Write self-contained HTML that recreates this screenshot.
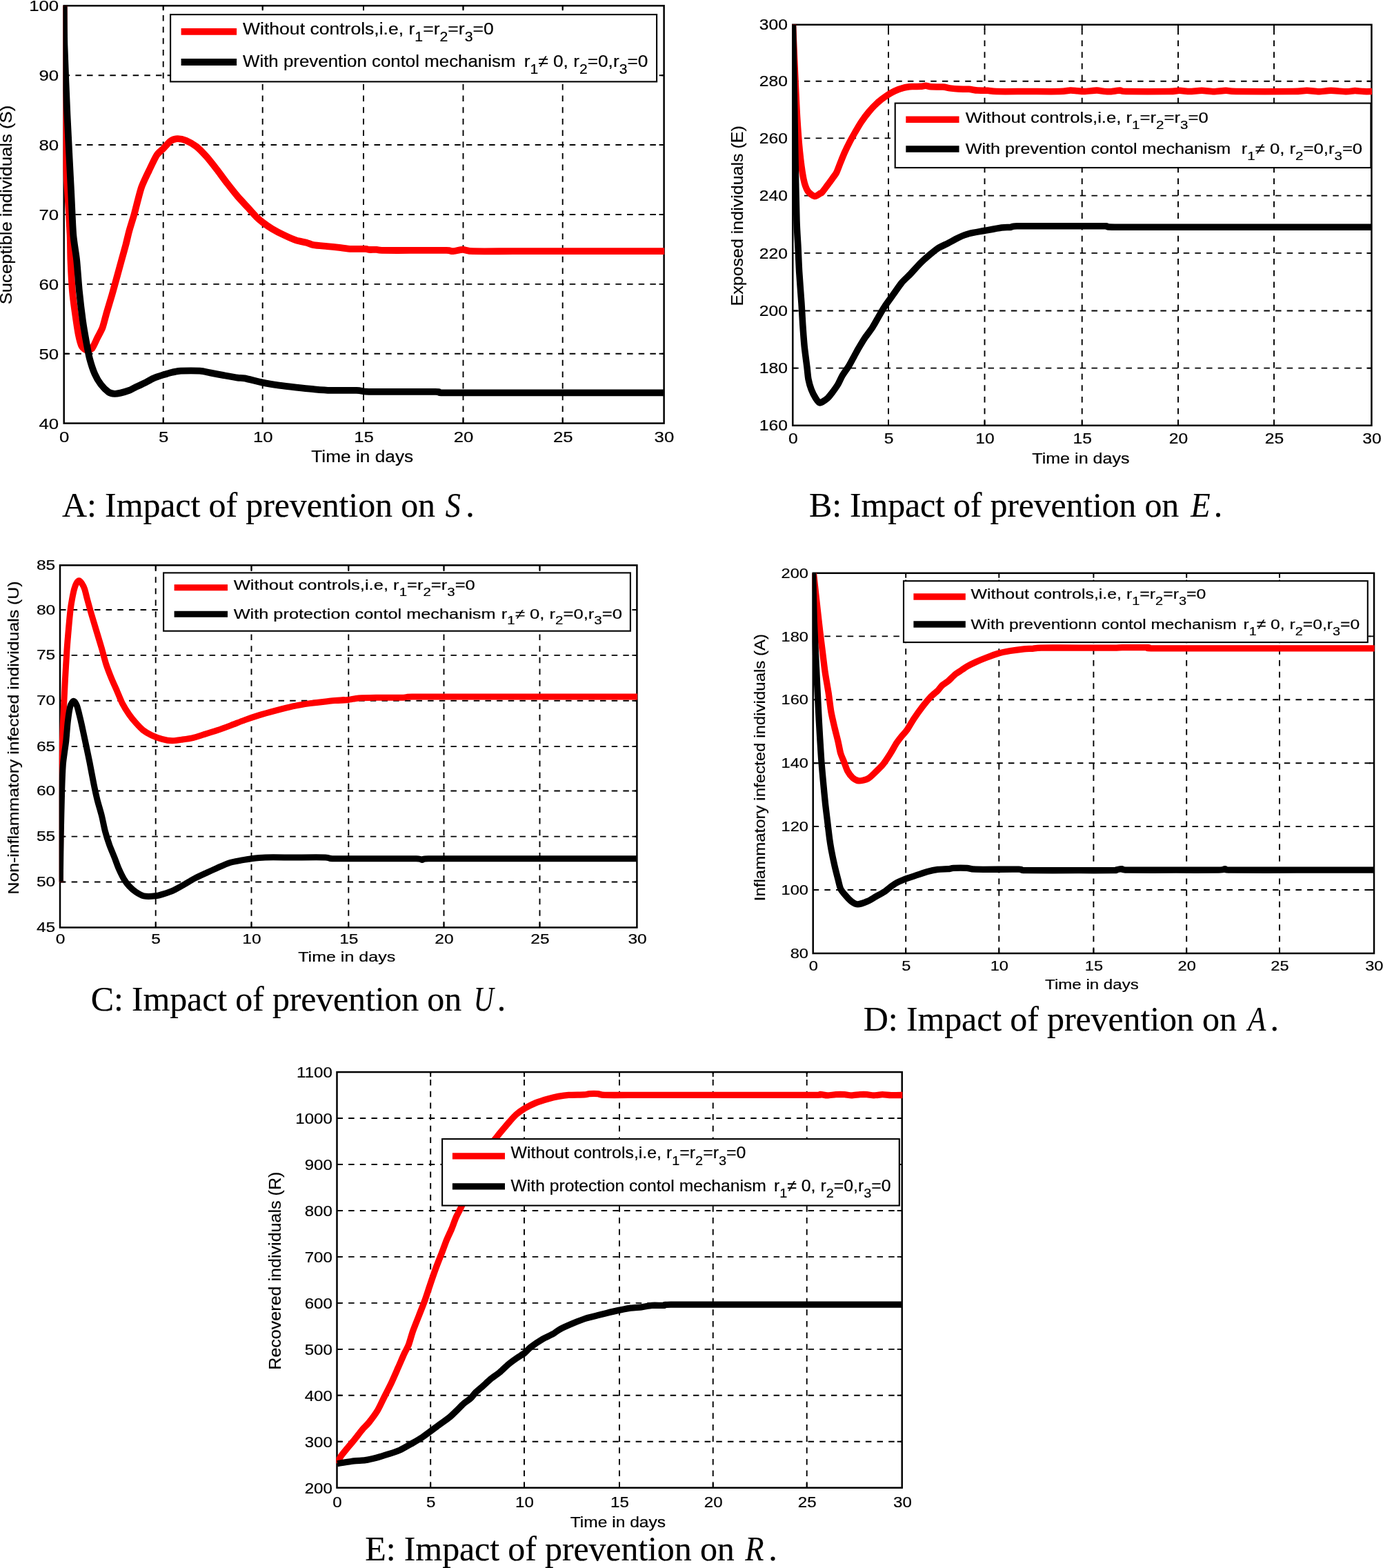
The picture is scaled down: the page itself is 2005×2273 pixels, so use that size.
<!DOCTYPE html>
<html lang="en">
<head>
<meta charset="utf-8">
<title>Impact of prevention on S, E, U, A and R</title>
<style>
html,body{margin:0;padding:0;background:#fff;}
body{width:2005px;height:2273px;overflow:hidden;}
svg{display:block;}
text{fill:#000;stroke:#000;stroke-width:0.2px;}
text.cap{stroke-width:0.15px;}
</style>
</head>
<body>
<svg width="2005" height="2273" viewBox="0 0 2005 2273" role="img" aria-label="Impact of prevention on S, E, U, A and R">
<rect width="2005" height="2273" fill="#fff"/>
<g id="chartA">
<path d="M236.7 613.6V8.3M380.7 613.6V8.3M527 613.6V8.3M671.5 613.6V8.3M815.7 613.6V8.3" stroke="#000" stroke-width="1.9" stroke-dasharray="8.5 8.16" fill="none"/>
<path d="M92.7 512.72H962.6M92.7 411.83H962.6M92.7 310.95H962.6M92.7 210.07H962.6M92.7 109.18H962.6" stroke="#000" stroke-width="1.9" stroke-dasharray="8.5 8.16" fill="none"/>
<path d="M236.7 613.6v-7.0M236.7 8.3v7.0M380.7 613.6v-7.0M380.7 8.3v7.0M527 613.6v-7.0M527 8.3v7.0M671.5 613.6v-7.0M671.5 8.3v7.0M815.7 613.6v-7.0M815.7 8.3v7.0M92.7 512.72h7.0M962.6 512.72h-7.0M92.7 411.83h7.0M962.6 411.83h-7.0M92.7 310.95h7.0M962.6 310.95h-7.0M92.7 210.07h7.0M962.6 210.07h-7.0M92.7 109.18h7.0M962.6 109.18h-7.0" stroke="#000" stroke-width="1.9" fill="none"/>
<rect x="92.7" y="8.3" width="869.9" height="605.3" fill="none" stroke="#000" stroke-width="2.5"/>
<clipPath id="clipA"><rect x="91.5" y="7.1" width="871.7" height="607.7"/></clipPath>
<g clip-path="url(#clipA)"><g fill="none" stroke-width="9.8" stroke-linejoin="round" stroke-linecap="butt">
<path d="M92.7 8.3C92.71 19.3 92.76 83 92.8 100C92.84 117 92.83 138 93 150C93.17 162 93.82 188 94.2 200C94.58 212 95.65 239.2 96.2 250C96.75 260.8 98.15 279.2 98.8 290C99.45 300.8 101.16 329.51 101.6 340C102.04 350.49 102.06 367.55 102.46 377.44C102.87 387.32 104.21 413.38 104.96 422.36C105.71 431.35 107.65 444.83 108.7 452.31C109.75 459.8 112.5 478.77 113.69 484.76C114.89 490.75 117.19 499.47 118.69 502.23C120.18 504.99 124.38 507.42 126.17 507.72C127.97 508.02 131.86 506.88 133.66 504.73C135.46 502.57 139.35 493.34 141.15 489.75C142.95 486.16 146.99 479.27 148.64 474.78C150.28 470.28 153.23 458 154.88 452.31C156.52 446.62 160.72 433.04 162.36 427.35C164.01 421.66 166.96 410.88 168.6 404.89C170.25 398.9 174.44 383.43 176.09 377.44C177.74 371.45 180.98 360.1 182.33 354.98C183.68 349.85 185.82 340.12 187.32 334.69C188.82 329.26 192.71 317.22 194.81 309.73C196.91 302.25 202.25 279.78 204.79 272.3C207.34 264.81 213.33 253.03 216.02 247.34C218.72 241.65 224.77 228.71 227.25 224.88C229.74 221.04 234.34 217.85 236.74 215.39C239.13 212.94 244.77 206.12 247.22 204.41C249.68 202.7 254.51 201.25 257.2 201.16C259.9 201.07 266.39 202.31 269.68 203.66C272.98 205.01 281.06 209.55 284.66 212.4C288.25 215.24 296.04 223.33 299.63 227.37C303.23 231.41 311.01 241.45 314.61 246.09C318.2 250.73 325.99 261.41 329.58 266.06C333.18 270.7 340.97 280.58 344.56 284.78C348.15 288.97 356.24 297.4 359.53 301C362.83 304.59 369.47 312.18 372.01 314.73C374.56 317.27 378.05 320.18 380.75 322.21C383.44 324.25 390.73 329.45 394.48 331.7C398.22 333.94 407.75 338.93 411.95 340.93C416.14 342.94 425.52 347.13 429.42 348.42C433.31 349.71 441.4 350.86 444.39 351.66C447.39 352.47 450.78 354.5 454.38 355.16C457.97 355.82 469.85 356.71 474.34 357.15C478.84 357.6 487.62 358.45 491.81 358.9C496.01 359.35 504.7 360.66 509.28 360.9C513.87 361.14 526.92 360.77 530 360.9C533.08 361.03 533.03 361.84 534.98 361.96C536.92 362.09 543.96 361.84 546.21 361.96C548.45 362.08 547.85 362.84 553.69 362.96C559.53 363.08 583.64 362.96 594.88 362.96C606.11 362.96 639.95 362.81 647.29 362.96C654.63 363.11 653.18 364.33 656.02 364.21C658.87 364.09 667.4 361.96 671 361.96C674.59 361.96 677.14 363.94 685.97 364.21C694.81 364.48 725.61 364.21 744.63 364.21C763.64 364.21 817.8 364.21 844.46 364.21C871.11 364.21 952.08 364.21 966.76 364.21" stroke="#f00"/>
<path d="M92.7 8.3C92.78 15.22 92.84 47.08 93.4 66C93.96 84.92 96.22 140.32 97.4 166C98.58 191.68 102.14 259.12 103.2 280C104.26 300.88 105.24 328.31 106.2 340C107.16 351.69 110.15 367.55 111.2 377.44C112.25 387.32 113.89 411.88 114.94 422.36C115.99 432.85 118.74 456.11 119.93 464.79C121.13 473.48 123.73 488.15 124.93 494.74C126.12 501.33 128.42 514.01 129.92 519.7C131.41 525.39 135.46 537.67 137.4 542.16C139.35 546.66 143.74 553.99 146.14 557.14C148.54 560.28 154.98 566.72 157.37 568.37C159.77 570.02 164.01 570.72 166.11 570.87C168.2 571.01 172.3 570.22 174.84 569.62C177.39 569.02 184.63 566.92 187.32 565.87C190.02 564.83 194.61 562.17 197.3 560.88C200 559.59 206.79 556.64 209.78 555.14C212.78 553.64 219.03 549.81 222.26 548.4C225.5 547 233.44 544.46 236.74 543.41C240.03 542.36 246.66 540.36 249.72 539.67C252.77 538.98 257.4 537.91 262.2 537.67C266.99 537.43 284.56 537.34 289.65 537.67C294.74 538 300.43 539.64 304.63 540.42C308.82 541.19 319.8 543.29 324.59 544.16C329.38 545.03 340.97 547.14 344.56 547.65C348.15 548.16 350.2 547.56 354.54 548.4C358.89 549.24 374.76 553.41 380.75 554.64C386.74 555.87 398.62 557.8 404.46 558.64C410.3 559.47 423.43 560.97 429.42 561.63C435.41 562.29 448.39 563.62 454.38 564.13C460.37 564.64 471.85 565.66 479.33 565.87C486.82 566.08 510.69 565.66 516.77 565.87C522.85 566.08 526.62 567.38 530 567.62C533.38 567.86 532.83 567.84 544.96 567.87C557.09 567.9 619.23 567.69 631.06 567.87C642.9 568.05 629.92 569.19 643.54 569.37C657.17 569.55 720.52 569.37 744.63 569.37C768.74 569.37 817.8 569.37 844.46 569.37C871.11 569.37 952.08 569.37 966.76 569.37" stroke="#000"/>
</g></g>
<text transform="translate(93.1 640.5) scale(1.14 1)" font-family='"Liberation Sans", sans-serif' font-size="22.6" text-anchor="middle">0</text>
<text transform="translate(237.2 640.5) scale(1.14 1)" font-family='"Liberation Sans", sans-serif' font-size="22.6" text-anchor="middle">5</text>
<text transform="translate(381.2 640.5) scale(1.14 1)" font-family='"Liberation Sans", sans-serif' font-size="22.6" text-anchor="middle">10</text>
<text transform="translate(527.5 640.5) scale(1.14 1)" font-family='"Liberation Sans", sans-serif' font-size="22.6" text-anchor="middle">15</text>
<text transform="translate(672 640.5) scale(1.14 1)" font-family='"Liberation Sans", sans-serif' font-size="22.6" text-anchor="middle">20</text>
<text transform="translate(816.2 640.5) scale(1.14 1)" font-family='"Liberation Sans", sans-serif' font-size="22.6" text-anchor="middle">25</text>
<text transform="translate(962.9 640.5) scale(1.14 1)" font-family='"Liberation Sans", sans-serif' font-size="22.6" text-anchor="middle">30</text>
<text transform="translate(85.2 621.62) scale(1.14 1)" font-family='"Liberation Sans", sans-serif' font-size="22.6" text-anchor="end">40</text>
<text transform="translate(85.2 520.74) scale(1.14 1)" font-family='"Liberation Sans", sans-serif' font-size="22.6" text-anchor="end">50</text>
<text transform="translate(85.2 419.86) scale(1.14 1)" font-family='"Liberation Sans", sans-serif' font-size="22.6" text-anchor="end">60</text>
<text transform="translate(85.2 318.97) scale(1.14 1)" font-family='"Liberation Sans", sans-serif' font-size="22.6" text-anchor="end">70</text>
<text transform="translate(85.2 218.09) scale(1.14 1)" font-family='"Liberation Sans", sans-serif' font-size="22.6" text-anchor="end">80</text>
<text transform="translate(85.2 117.21) scale(1.14 1)" font-family='"Liberation Sans", sans-serif' font-size="22.6" text-anchor="end">90</text>
<text transform="translate(85.2 16.32) scale(1.14 1)" font-family='"Liberation Sans", sans-serif' font-size="22.6" text-anchor="end">100</text>
<text transform="translate(525.2 669.9) scale(1.14 1)" font-family='"Liberation Sans", sans-serif' font-size="23.05" text-anchor="middle">Time in days</text>
<text transform="translate(17.4 297) rotate(-90) scale(1.09 1)" font-family='"Liberation Sans", sans-serif' font-size="23.6" text-anchor="middle">Suceptible individuals (S)</text>
<rect x="247.1" y="21.1" width="705" height="97.3" fill="#fff" stroke="#000" stroke-width="2.1"/>
<path d="M262.6 45.9H343.1" stroke="#f00" stroke-width="9.8"/>
<path d="M262.6 90H343.1" stroke="#000" stroke-width="9.8"/>
<text transform="translate(352 49.9) scale(1.14 1)" font-family='"Liberation Sans", sans-serif' font-size="24.3" xml:space="preserve" textLength="319.12" lengthAdjust="spacingAndGlyphs"><tspan dy="0" font-size="24.3">Without controls,i.e, r</tspan><tspan dy="10.21" font-size="19.44">1</tspan><tspan dy="-10.21" font-size="24.3">=r</tspan><tspan dy="10.21" font-size="19.44">2</tspan><tspan dy="-10.21" font-size="24.3">=r</tspan><tspan dy="10.21" font-size="19.44">3</tspan><tspan dy="-10.21" font-size="24.3">=0</tspan></text>
<text transform="translate(352 96.5) scale(1.14 1)" font-family='"Liberation Sans", sans-serif' font-size="24.3" xml:space="preserve" textLength="346.93" lengthAdjust="spacingAndGlyphs"><tspan dy="0" font-size="24.3">With prevention contol mechanism</tspan></text>
<text transform="translate(759.7 96.5) scale(1.14 1)" font-family='"Liberation Sans", sans-serif' font-size="24.3" xml:space="preserve" textLength="157.63" lengthAdjust="spacingAndGlyphs"><tspan dy="0" font-size="24.3">r</tspan><tspan dy="10.21" font-size="19.44">1</tspan><tspan dy="-10.21" font-size="24.3">≠ 0, r</tspan><tspan dy="10.21" font-size="19.44">2</tspan><tspan dy="-10.21" font-size="24.3">=0,r</tspan><tspan dy="10.21" font-size="19.44">3</tspan><tspan dy="-10.21" font-size="24.3">=0</tspan></text>
<text x="90" y="748.5" font-family='"Liberation Serif", serif' font-size="50" textLength="541.1" lengthAdjust="spacing" class="cap">A: Impact of prevention on</text>
<text transform="translate(656.7 748.5) scale(0.88 1)" font-family='"Liberation Serif", serif' font-style="italic" font-size="50" text-anchor="middle" class="cap">S</text>
<text x="675.3" y="748.5" font-family='"Liberation Serif", serif' font-size="50" class="cap">.</text>
</g>
<g id="chartB">
<path d="M1288 616.8V35.8M1427.5 616.8V35.8M1568.7 616.8V35.8M1708 616.8V35.8M1847 616.8V35.8" stroke="#000" stroke-width="1.9" stroke-dasharray="8.5 8.16" fill="none"/>
<path d="M1149.3 533.6H1988.4M1149.3 450.5H1988.4M1149.3 366.9H1988.4M1149.3 283.6H1988.4M1149.3 200.4H1988.4M1149.3 117.7H1988.4" stroke="#000" stroke-width="1.9" stroke-dasharray="8.5 8.16" fill="none"/>
<path d="M1288 616.8v-7.0M1288 35.8v7.0M1427.5 616.8v-7.0M1427.5 35.8v7.0M1568.7 616.8v-7.0M1568.7 35.8v7.0M1708 616.8v-7.0M1708 35.8v7.0M1847 616.8v-7.0M1847 35.8v7.0M1149.3 533.6h7.0M1988.4 533.6h-7.0M1149.3 450.5h7.0M1988.4 450.5h-7.0M1149.3 366.9h7.0M1988.4 366.9h-7.0M1149.3 283.6h7.0M1988.4 283.6h-7.0M1149.3 200.4h7.0M1988.4 200.4h-7.0M1149.3 117.7h7.0M1988.4 117.7h-7.0" stroke="#000" stroke-width="1.9" fill="none"/>
<rect x="1149.3" y="35.8" width="839.1" height="581" fill="none" stroke="#000" stroke-width="2.5"/>
<clipPath id="clipB"><rect x="1148.1" y="34.6" width="840.9" height="583.4"/></clipPath>
<g clip-path="url(#clipB)"><g fill="none" stroke-width="9.5" stroke-linejoin="round" stroke-linecap="butt">
<path d="M1149.48 35.49C1149.84 43.82 1151.76 89.06 1152.48 104.88C1153.2 120.69 1154.64 153.49 1155.47 167.27C1156.31 181.05 1158.33 208.6 1159.47 219.68C1160.61 230.77 1163.55 252.73 1164.96 259.62C1166.37 266.51 1169.25 274.09 1171.2 277.09C1173.14 280.08 1179.02 284.19 1181.18 284.58C1183.34 284.97 1187.94 280.97 1189.17 280.33C1190.39 279.7 1190.46 280.3 1191.4 279.3C1192.34 278.3 1195.68 273.74 1197 272C1198.32 270.26 1201.13 266.54 1202.4 264.8C1203.67 263.06 1206.36 259.25 1207.6 257.5C1208.84 255.75 1211.39 252.84 1212.7 250.2C1214.01 247.56 1217.07 239.03 1218.5 235.5C1219.93 231.97 1223.02 224.33 1224.6 220.8C1226.18 217.27 1229.88 209.62 1231.7 206.1C1233.52 202.58 1237.77 195.02 1239.8 191.5C1241.83 187.98 1246.22 180.33 1248.6 176.8C1250.98 173.27 1256.78 165.45 1259.6 162.1C1262.42 158.75 1268.99 151.72 1272.1 148.9C1275.21 146.08 1282.48 140.65 1285.5 138.6C1288.52 136.55 1294.33 133.18 1297.24 131.83C1300.14 130.48 1306.72 128.09 1309.72 127.34C1312.71 126.59 1319.2 125.83 1322.2 125.59C1325.19 125.35 1332.28 125.49 1334.68 125.34C1337.07 125.19 1340.37 124.28 1342.16 124.34C1343.96 124.4 1346.66 125.63 1349.65 125.84C1352.65 126.05 1363.83 125.85 1367.12 126.09C1370.42 126.33 1374.41 127.48 1377.1 127.84C1379.8 128.2 1386.29 128.91 1389.58 129.08C1392.88 129.26 1401.26 129.09 1404.56 129.33C1407.85 129.57 1413.74 130.84 1417.04 131.08C1420.33 131.32 1428.72 131.15 1432.01 131.33C1435.31 131.51 1437.6 132.43 1444.49 132.58C1451.38 132.73 1478.34 132.58 1489.42 132.58C1500.5 132.58 1529.35 132.76 1536.84 132.58C1544.33 132.4 1548.82 131.17 1551.81 131.08C1554.81 130.99 1559.4 131.65 1561.8 131.83C1564.19 132.01 1568.4 132.67 1571.78 132.58C1575.16 132.49 1586.62 131.11 1590 131.08C1593.38 131.05 1597.54 132.12 1599.93 132.33C1602.31 132.54 1607.06 132.98 1609.91 132.83C1612.75 132.68 1620.94 131.11 1623.64 131.08C1626.33 131.05 1623.84 132.4 1632.37 132.58C1640.91 132.76 1685.48 132.73 1694.77 132.58C1704.05 132.43 1706.15 131.33 1709.74 131.33C1713.34 131.33 1720.82 132.58 1724.72 132.58C1728.61 132.58 1738 131.3 1742.19 131.33C1746.38 131.36 1755.47 132.83 1759.66 132.83C1763.85 132.83 1773.24 131.36 1777.13 131.33C1781.02 131.3 1780.42 132.43 1792.1 132.58C1803.79 132.73 1862.19 132.73 1874.47 132.58C1886.75 132.43 1889.94 131.3 1894.43 131.33C1898.93 131.36 1907.71 132.83 1911.91 132.83C1916.1 132.83 1924.58 131.33 1929.38 131.33C1934.17 131.33 1947.65 132.8 1951.84 132.83C1956.03 132.86 1961.32 131.61 1964.32 131.58C1967.31 131.55 1973.65 132.46 1976.8 132.58C1979.94 132.7 1988.88 132.58 1990.52 132.58" stroke="#f00"/>
<path d="M1149.48 35.49C1149.69 46.81 1150.81 106.53 1151.23 129.83C1151.65 153.13 1152.53 206.91 1152.98 229.67C1153.43 252.43 1154.5 304.19 1154.98 319.52C1155.45 334.85 1156.52 348.39 1156.97 357.44C1157.42 366.48 1158.12 384.99 1158.72 394.88C1159.32 404.76 1161.36 430.82 1161.96 439.8C1162.56 448.79 1163.2 462.26 1163.71 469.75C1164.22 477.24 1165.46 494.71 1166.21 502.2C1166.96 509.68 1169.26 526.46 1169.95 532.15C1170.64 537.84 1171.2 545.72 1171.95 549.62C1172.7 553.51 1174.93 561.3 1176.19 564.59C1177.45 567.89 1180.93 574.74 1182.43 577.07C1183.93 579.41 1186.57 584.06 1188.67 584.06C1190.77 584.06 1197.8 578.81 1199.9 577.07C1202 575.33 1204.34 571.98 1206.14 569.58C1207.94 567.19 1213.08 560.1 1214.88 557.1C1216.67 554.11 1219.17 547.92 1221.11 544.63C1223.06 541.33 1229 533.09 1231.1 529.65C1233.19 526.21 1236.94 518.92 1238.59 515.92C1240.23 512.93 1242.88 507.99 1244.83 504.69C1246.77 501.4 1252.41 492.06 1254.81 488.47C1257.2 484.88 1262.4 478.49 1264.79 474.74C1267.19 471 1272.68 460.87 1274.78 457.27C1276.87 453.68 1279.87 448.39 1282.26 444.79C1284.66 441.2 1291.75 431.51 1294.74 427.32C1297.74 423.13 1304.23 413.44 1307.22 409.85C1310.22 406.26 1316.41 400.82 1319.7 397.37C1323 393.93 1331.38 384.44 1334.68 381.15C1337.97 377.85 1344.16 372.46 1347.15 369.92C1350.15 367.37 1356.34 362.03 1359.63 359.93C1362.93 357.84 1371.01 354.3 1374.61 352.45C1378.2 350.59 1385.99 346.11 1389.58 344.46C1393.18 342.81 1400.07 339.92 1404.56 338.72C1409.05 337.52 1421.33 335.52 1427.02 334.48C1432.71 333.43 1447.49 330.58 1451.98 329.98C1456.47 329.38 1461.76 329.75 1464.46 329.48C1467.15 329.21 1465.46 327.95 1474.44 327.74C1483.43 327.53 1525.47 327.74 1539.33 327.74C1553.2 327.74 1582.24 327.74 1590 327.74C1597.76 327.73 1600.88 327.52 1604 327.7C1607.12 327.88 1598.48 329.02 1616 329.2C1633.52 329.38 1718.32 329.2 1750 329.2C1781.68 329.2 1851.2 329.2 1880 329.2C1908.8 329.2 1976.8 329.2 1990 329.2" stroke="#000"/>
</g></g>
<text transform="translate(1149.9 643.2) scale(1.14 1)" font-family='"Liberation Sans", sans-serif' font-size="21.6" text-anchor="middle">0</text>
<text transform="translate(1288.5 643.2) scale(1.14 1)" font-family='"Liberation Sans", sans-serif' font-size="21.6" text-anchor="middle">5</text>
<text transform="translate(1428 643.2) scale(1.14 1)" font-family='"Liberation Sans", sans-serif' font-size="21.6" text-anchor="middle">10</text>
<text transform="translate(1569.2 643.2) scale(1.14 1)" font-family='"Liberation Sans", sans-serif' font-size="21.6" text-anchor="middle">15</text>
<text transform="translate(1708.5 643.2) scale(1.14 1)" font-family='"Liberation Sans", sans-serif' font-size="21.6" text-anchor="middle">20</text>
<text transform="translate(1847.5 643.2) scale(1.14 1)" font-family='"Liberation Sans", sans-serif' font-size="21.6" text-anchor="middle">25</text>
<text transform="translate(1989 643.2) scale(1.14 1)" font-family='"Liberation Sans", sans-serif' font-size="21.6" text-anchor="middle">30</text>
<text transform="translate(1141.9 624.47) scale(1.14 1)" font-family='"Liberation Sans", sans-serif' font-size="21.6" text-anchor="end">160</text>
<text transform="translate(1141.9 541.27) scale(1.14 1)" font-family='"Liberation Sans", sans-serif' font-size="21.6" text-anchor="end">180</text>
<text transform="translate(1141.9 458.17) scale(1.14 1)" font-family='"Liberation Sans", sans-serif' font-size="21.6" text-anchor="end">200</text>
<text transform="translate(1141.9 374.57) scale(1.14 1)" font-family='"Liberation Sans", sans-serif' font-size="21.6" text-anchor="end">220</text>
<text transform="translate(1141.9 291.27) scale(1.14 1)" font-family='"Liberation Sans", sans-serif' font-size="21.6" text-anchor="end">240</text>
<text transform="translate(1141.9 208.07) scale(1.14 1)" font-family='"Liberation Sans", sans-serif' font-size="21.6" text-anchor="end">260</text>
<text transform="translate(1141.9 125.37) scale(1.14 1)" font-family='"Liberation Sans", sans-serif' font-size="21.6" text-anchor="end">280</text>
<text transform="translate(1141.9 43.47) scale(1.14 1)" font-family='"Liberation Sans", sans-serif' font-size="21.6" text-anchor="end">300</text>
<text transform="translate(1566.9 671.9) scale(1.14 1)" font-family='"Liberation Sans", sans-serif' font-size="22.03" text-anchor="middle">Time in days</text>
<text transform="translate(1076.6 312.8) rotate(-90) scale(1.06 1)" font-family='"Liberation Sans", sans-serif' font-size="23.6" text-anchor="middle">Exposed individuals (E)</text>
<rect x="1297.7" y="149.6" width="689.7" height="93.5" fill="#fff" stroke="#000" stroke-width="2.1"/>
<path d="M1313.3 173.3H1390.5" stroke="#f00" stroke-width="9.5"/>
<path d="M1313.3 216.1H1390.5" stroke="#000" stroke-width="9.5"/>
<text transform="translate(1399.8 177.8) scale(1.14 1)" font-family='"Liberation Sans", sans-serif' font-size="21.6" xml:space="preserve" textLength="308.81" lengthAdjust="spacingAndGlyphs"><tspan dy="0" font-size="21.6">Without controls,i.e, r</tspan><tspan dy="9.07" font-size="17.28">1</tspan><tspan dy="-9.07" font-size="21.6">=r</tspan><tspan dy="9.07" font-size="17.28">2</tspan><tspan dy="-9.07" font-size="21.6">=r</tspan><tspan dy="9.07" font-size="17.28">3</tspan><tspan dy="-9.07" font-size="21.6">=0</tspan></text>
<text transform="translate(1399.8 222.8) scale(1.14 1)" font-family='"Liberation Sans", sans-serif' font-size="21.6" xml:space="preserve" textLength="337.18" lengthAdjust="spacingAndGlyphs"><tspan dy="0" font-size="21.6">With prevention contol mechanism</tspan></text>
<text transform="translate(1799.8 222.8) scale(1.14 1)" font-family='"Liberation Sans", sans-serif' font-size="21.6" xml:space="preserve" textLength="153.83" lengthAdjust="spacingAndGlyphs"><tspan dy="0" font-size="21.6">r</tspan><tspan dy="9.07" font-size="17.28">1</tspan><tspan dy="-9.07" font-size="21.6">≠ 0, r</tspan><tspan dy="9.07" font-size="17.28">2</tspan><tspan dy="-9.07" font-size="21.6">=0,r</tspan><tspan dy="9.07" font-size="17.28">3</tspan><tspan dy="-9.07" font-size="21.6">=0</tspan></text>
<text x="1173" y="748.5" font-family='"Liberation Serif", serif' font-size="50" textLength="536.2" lengthAdjust="spacing" class="cap">B: Impact of prevention on</text>
<text transform="translate(1740.35 748.5) scale(0.93 1)" font-family='"Liberation Serif", serif' font-style="italic" font-size="50" text-anchor="middle" class="cap">E</text>
<text x="1759.7" y="748.5" font-family='"Liberation Serif", serif' font-size="50" class="cap">.</text>
</g>
<g id="chartC">
<path d="M225.7 1344.5V819.4M364.5 1344.5V819.4M505.3 1344.5V819.4M643.5 1344.5V819.4M782.5 1344.5V819.4" stroke="#000" stroke-width="1.9" stroke-dasharray="8.5 8.16" fill="none"/>
<path d="M87 1278.5H923.4M87 1212.6H923.4M87 1146.5H923.4M87 1082.1H923.4M87 1015.7H923.4M87 949.9H923.4M87 884H923.4" stroke="#000" stroke-width="1.9" stroke-dasharray="8.5 8.16" fill="none"/>
<path d="M225.7 1344.5v-7.0M225.7 819.4v7.0M364.5 1344.5v-7.0M364.5 819.4v7.0M505.3 1344.5v-7.0M505.3 819.4v7.0M643.5 1344.5v-7.0M643.5 819.4v7.0M782.5 1344.5v-7.0M782.5 819.4v7.0M87 1278.5h7.0M923.4 1278.5h-7.0M87 1212.6h7.0M923.4 1212.6h-7.0M87 1146.5h7.0M923.4 1146.5h-7.0M87 1082.1h7.0M923.4 1082.1h-7.0M87 1015.7h7.0M923.4 1015.7h-7.0M87 949.9h7.0M923.4 949.9h-7.0M87 884h7.0M923.4 884h-7.0" stroke="#000" stroke-width="1.9" fill="none"/>
<rect x="87" y="819.4" width="836.4" height="525.1" fill="none" stroke="#000" stroke-width="2.5"/>
<clipPath id="clipC"><rect x="85.8" y="818.2" width="838.2" height="527.5"/></clipPath>
<g clip-path="url(#clipC)"><g fill="none" stroke-width="9" stroke-linejoin="round" stroke-linecap="butt">
<path d="M87.3 1278.4C87.36 1268.99 87.56 1220.21 87.8 1200C88.04 1179.79 88.88 1128 89.3 1110C89.72 1092 90.69 1064.88 91.3 1050C91.91 1035.12 93.72 998.96 94.4 986C95.08 973.04 96.38 951.12 97 942C97.62 932.88 98.98 917.03 99.6 910C100.22 902.97 101.6 888.44 102.2 883.4C102.8 878.36 103.95 871.53 104.6 868C105.25 864.47 106.86 856.7 107.6 854C108.34 851.3 109.96 846.96 110.8 845.5C111.64 844.04 113.68 841.8 114.6 841.8C115.52 841.8 117.53 844.04 118.5 845.5C119.47 846.96 121.78 851.37 122.7 854C123.62 856.63 125 863.1 126.16 867.4C127.33 871.71 130.76 884.18 132.4 889.87C134.05 895.56 138.09 908.84 139.89 914.83C141.69 920.82 145.73 934.09 147.38 939.78C149.03 945.47 151.97 957.15 153.62 962.25C155.27 967.34 159.16 977.42 161.11 982.21C163.05 987 167.9 997.69 169.84 1002.18C171.79 1006.67 175.23 1015.61 177.33 1019.65C179.43 1023.69 184.92 1032.43 187.31 1035.87C189.71 1039.32 194.9 1045.66 197.3 1048.35C199.69 1051.05 204.58 1056.24 207.28 1058.34C209.98 1060.43 216.46 1064.27 219.76 1065.82C223.05 1067.38 231.14 1070.36 234.73 1071.31C238.33 1072.27 246.11 1073.72 249.71 1073.81C253.3 1073.9 261.09 1072.57 264.68 1072.06C268.28 1071.55 276.06 1070.41 279.66 1069.57C283.25 1068.73 290.44 1066.36 294.63 1065.07C298.83 1063.79 309.81 1060.45 314.6 1058.84C319.39 1057.22 329.78 1053.39 334.57 1051.6C339.36 1049.8 349.74 1045.6 354.53 1043.86C359.33 1042.12 369.11 1038.77 374.5 1037.12C379.89 1035.47 393.47 1031.72 399.46 1030.13C405.45 1028.55 418.43 1025.15 424.42 1023.89C430.41 1022.64 443.39 1020.52 449.38 1019.65C455.37 1018.78 468.34 1017.25 474.33 1016.66C480.32 1016.06 497.41 1014.81 499.29 1014.66C501.17 1014.51 489.32 1015.44 490 1015.41C490.68 1015.38 501.38 1014.83 504.98 1014.41C508.57 1013.99 515.16 1012.3 519.95 1011.91C524.74 1011.52 537.12 1011.25 544.91 1011.16C552.7 1011.07 578.55 1011.31 584.84 1011.16C591.13 1011.01 584.74 1010.07 597.32 1009.92C609.9 1009.77 663.61 1009.92 689.67 1009.92C715.72 1009.92 786.16 1009.92 814.46 1009.92C842.76 1009.92 912.2 1009.92 925.52 1009.92" stroke="#f00"/>
<path d="M87.3 1278.4C87.41 1270.37 87.91 1227.46 88.2 1211.5C88.49 1195.54 89.33 1157.74 89.7 1145.4C90.07 1133.06 90.83 1115.35 91.3 1108.7C91.77 1102.05 93.06 1094.16 93.6 1090C94.14 1085.84 95.24 1079.28 95.8 1074C96.36 1068.72 97.58 1052 98.3 1046C99.02 1040 100.8 1027.58 101.8 1024C102.8 1020.42 105.44 1016.32 106.6 1016.2C107.76 1016.08 110.49 1020.62 111.5 1023C112.51 1025.38 114.18 1032.76 115 1036C115.82 1039.24 117.08 1044.44 118.3 1050C119.52 1055.56 123.81 1075.71 125.2 1082.3C126.59 1088.89 128.59 1098.3 129.91 1104.91C131.22 1111.52 134.8 1130.77 136.15 1137.35C137.5 1143.94 139.79 1154.43 141.14 1159.82C142.49 1165.21 146.03 1176.89 147.38 1182.28C148.73 1187.67 151.02 1199.65 152.37 1204.74C153.72 1209.83 156.96 1220.07 158.61 1224.71C160.26 1229.35 164.45 1239.23 166.1 1243.43C167.75 1247.62 170.69 1255.91 172.34 1259.65C173.99 1263.39 178.03 1271.63 179.83 1274.63C181.62 1277.62 185.22 1282.36 187.31 1284.61C189.41 1286.86 194.75 1291.64 197.3 1293.34C199.84 1295.05 205.23 1298.18 208.53 1298.84C211.82 1299.49 221.31 1299.19 224.75 1298.84C228.19 1298.48 233.94 1296.86 237.23 1295.84C240.52 1294.82 248.61 1292 252.2 1290.35C255.8 1288.7 263.59 1284.15 267.18 1282.11C270.77 1280.08 278.26 1275.41 282.15 1273.38C286.05 1271.34 295.73 1266.94 299.63 1265.14C303.52 1263.34 310.71 1260.11 314.6 1258.4C318.49 1256.7 327.88 1252.26 332.07 1250.92C336.26 1249.57 345.65 1247.92 349.54 1247.17C353.44 1246.42 360.32 1245.18 364.52 1244.68C368.71 1244.17 377.3 1243.14 384.48 1242.93C391.67 1242.72 413.94 1242.93 424.42 1242.93C434.9 1242.93 464.95 1242.72 471.84 1242.93C478.73 1243.14 475.44 1244.47 481.82 1244.68C488.2 1244.89 518.03 1244.66 525 1244.68C531.97 1244.69 530.49 1244.76 539.92 1244.78C549.34 1244.79 594.88 1244.57 603.56 1244.78C612.25 1244.99 610.2 1246.52 612.3 1246.52C614.39 1246.52 608.75 1244.99 621.03 1244.78C633.31 1244.57 691.41 1244.78 714.63 1244.78C737.84 1244.78 789.15 1244.78 814.46 1244.78C839.77 1244.78 912.2 1244.78 925.52 1244.78" stroke="#000"/>
</g></g>
<text transform="translate(87.5 1368.1) scale(1.21 1)" font-family='"Liberation Sans", sans-serif' font-size="20.3" text-anchor="middle">0</text>
<text transform="translate(226.2 1368.1) scale(1.21 1)" font-family='"Liberation Sans", sans-serif' font-size="20.3" text-anchor="middle">5</text>
<text transform="translate(365 1368.1) scale(1.21 1)" font-family='"Liberation Sans", sans-serif' font-size="20.3" text-anchor="middle">10</text>
<text transform="translate(505.8 1368.1) scale(1.21 1)" font-family='"Liberation Sans", sans-serif' font-size="20.3" text-anchor="middle">15</text>
<text transform="translate(644 1368.1) scale(1.21 1)" font-family='"Liberation Sans", sans-serif' font-size="20.3" text-anchor="middle">20</text>
<text transform="translate(783 1368.1) scale(1.21 1)" font-family='"Liberation Sans", sans-serif' font-size="20.3" text-anchor="middle">25</text>
<text transform="translate(924.1 1368.1) scale(1.21 1)" font-family='"Liberation Sans", sans-serif' font-size="20.3" text-anchor="middle">30</text>
<text transform="translate(80.2 1351.01) scale(1.21 1)" font-family='"Liberation Sans", sans-serif' font-size="20.3" text-anchor="end">45</text>
<text transform="translate(80.2 1285.01) scale(1.21 1)" font-family='"Liberation Sans", sans-serif' font-size="20.3" text-anchor="end">50</text>
<text transform="translate(80.2 1219.11) scale(1.21 1)" font-family='"Liberation Sans", sans-serif' font-size="20.3" text-anchor="end">55</text>
<text transform="translate(80.2 1153.01) scale(1.21 1)" font-family='"Liberation Sans", sans-serif' font-size="20.3" text-anchor="end">60</text>
<text transform="translate(80.2 1088.61) scale(1.21 1)" font-family='"Liberation Sans", sans-serif' font-size="20.3" text-anchor="end">65</text>
<text transform="translate(80.2 1022.21) scale(1.21 1)" font-family='"Liberation Sans", sans-serif' font-size="20.3" text-anchor="end">70</text>
<text transform="translate(80.2 956.41) scale(1.21 1)" font-family='"Liberation Sans", sans-serif' font-size="20.3" text-anchor="end">75</text>
<text transform="translate(80.2 890.51) scale(1.21 1)" font-family='"Liberation Sans", sans-serif' font-size="20.3" text-anchor="end">80</text>
<text transform="translate(80.2 825.91) scale(1.21 1)" font-family='"Liberation Sans", sans-serif' font-size="20.3" text-anchor="end">85</text>
<text transform="translate(502.7 1394.1) scale(1.21 1)" font-family='"Liberation Sans", sans-serif' font-size="20.71" text-anchor="middle">Time in days</text>
<text transform="translate(27 1069.5) rotate(-90) scale(1.14 1)" font-family='"Liberation Sans", sans-serif' font-size="21.8" text-anchor="middle">Non-inflammatory infected individuals (U)</text>
<rect x="237.1" y="830.4" width="676.8" height="84.3" fill="#fff" stroke="#000" stroke-width="2.1"/>
<path d="M252.6 851.7H330" stroke="#f00" stroke-width="9"/>
<path d="M252.6 890.3H330" stroke="#000" stroke-width="9"/>
<text transform="translate(338.7 855) scale(1.21 1)" font-family='"Liberation Sans", sans-serif' font-size="20.3" xml:space="preserve" textLength="289.32" lengthAdjust="spacingAndGlyphs"><tspan dy="0" font-size="20.3">Without controls,i.e, r</tspan><tspan dy="8.53" font-size="16.24">1</tspan><tspan dy="-8.53" font-size="20.3">=r</tspan><tspan dy="8.53" font-size="16.24">2</tspan><tspan dy="-8.53" font-size="20.3">=r</tspan><tspan dy="8.53" font-size="16.24">3</tspan><tspan dy="-8.53" font-size="20.3">=0</tspan></text>
<text transform="translate(338.7 896.5) scale(1.21 1)" font-family='"Liberation Sans", sans-serif' font-size="20.3" xml:space="preserve" textLength="313.99" lengthAdjust="spacingAndGlyphs"><tspan dy="0" font-size="20.3">With protection contol mechanism</tspan></text>
<text transform="translate(726.8 896.5) scale(1.21 1)" font-family='"Liberation Sans", sans-serif' font-size="20.3" xml:space="preserve" textLength="144.78" lengthAdjust="spacingAndGlyphs"><tspan dy="0" font-size="20.3">r</tspan><tspan dy="8.53" font-size="16.24">1</tspan><tspan dy="-8.53" font-size="20.3">≠ 0, r</tspan><tspan dy="8.53" font-size="16.24">2</tspan><tspan dy="-8.53" font-size="20.3">=0,r</tspan><tspan dy="8.53" font-size="16.24">3</tspan><tspan dy="-8.53" font-size="20.3">=0</tspan></text>
<text x="131.8" y="1464.8" font-family='"Liberation Serif", serif' font-size="50" textLength="537.4" lengthAdjust="spacing" class="cap">C: Impact of prevention on</text>
<text transform="translate(701.25 1464.8) scale(0.8 1)" font-family='"Liberation Serif", serif' font-style="italic" font-size="50" text-anchor="middle" class="cap">U</text>
<text x="720.8" y="1464.8" font-family='"Liberation Serif", serif' font-size="50" class="cap">.</text>
</g>
<g id="chartD">
<path d="M1313.2 1382V830.8M1448.3 1382V830.8M1585.4 1382V830.8M1720.2 1382V830.8M1855 1382V830.8" stroke="#000" stroke-width="1.9" stroke-dasharray="8.5 8.16" fill="none"/>
<path d="M1178.7 1290H1992M1178.7 1198.1H1992M1178.7 1106.2H1992M1178.7 1014.2H1992M1178.7 922.4H1992" stroke="#000" stroke-width="1.9" stroke-dasharray="8.5 8.16" fill="none"/>
<path d="M1313.2 1382v-7.0M1313.2 830.8v7.0M1448.3 1382v-7.0M1448.3 830.8v7.0M1585.4 1382v-7.0M1585.4 830.8v7.0M1720.2 1382v-7.0M1720.2 830.8v7.0M1855 1382v-7.0M1855 830.8v7.0M1178.7 1290h7.0M1992 1290h-7.0M1178.7 1198.1h7.0M1992 1198.1h-7.0M1178.7 1106.2h7.0M1992 1106.2h-7.0M1178.7 1014.2h7.0M1992 1014.2h-7.0M1178.7 922.4h7.0M1992 922.4h-7.0" stroke="#000" stroke-width="1.9" fill="none"/>
<rect x="1178.7" y="830.8" width="813.3" height="551.2" fill="none" stroke="#000" stroke-width="2.5"/>
<clipPath id="clipD"><rect x="1177.5" y="829.6" width="815.1" height="553.6"/></clipPath>
<g clip-path="url(#clipD)"><g fill="none" stroke-width="9.3" stroke-linejoin="round" stroke-linecap="butt">
<path d="M1179.48 831.23C1179.99 835.87 1182.61 859.88 1183.72 869.92C1184.83 879.95 1187.66 905.86 1188.71 914.84C1189.76 923.83 1191.56 937.6 1192.45 944.79C1193.35 951.98 1195.15 967.55 1196.2 974.74C1197.25 981.93 1200.14 997.8 1201.19 1004.69C1202.24 1011.58 1203.89 1026.16 1204.93 1032.15C1205.98 1038.14 1208.73 1049.52 1209.93 1054.61C1211.12 1059.7 1213.87 1070.08 1214.92 1074.58C1215.97 1079.07 1217.61 1088.45 1218.66 1092.05C1219.71 1095.64 1222.45 1101.48 1223.65 1104.53C1224.85 1107.57 1227.15 1114.7 1228.64 1117.45C1230.14 1120.2 1234.12 1125.7 1236.13 1127.44C1238.14 1129.17 1242.67 1131.78 1245.37 1131.93C1248.06 1132.08 1255.66 1130.27 1258.59 1128.69C1261.53 1127.1 1267.22 1121.19 1269.83 1118.7C1272.43 1116.22 1277.76 1111.17 1280.31 1107.97C1282.85 1104.77 1288.7 1095.75 1291.04 1092.05C1293.38 1088.34 1297.83 1080.07 1299.78 1077.07C1301.72 1074.08 1305.47 1069.33 1307.26 1067.09C1309.06 1064.84 1312.65 1061.35 1314.75 1058.35C1316.85 1055.36 1322.04 1046.17 1324.73 1042.13C1327.43 1038.09 1334.22 1028.55 1337.21 1024.66C1340.21 1020.77 1347 1012.53 1349.69 1009.68C1352.39 1006.84 1357.73 1002.9 1359.68 1000.95C1361.62 999 1364.12 995.11 1365.92 993.46C1367.71 991.81 1372.4 989.11 1374.65 987.22C1376.9 985.33 1382.24 979.68 1384.63 977.74C1387.03 975.79 1392.52 972.41 1394.62 971C1396.71 969.59 1399.71 967.35 1402.1 966.01C1404.5 964.66 1411.29 961.26 1414.58 959.77C1417.88 958.27 1425.67 955.02 1429.56 953.53C1433.45 952.03 1442.84 948.49 1447.03 947.29C1451.22 946.09 1460.01 944.32 1464.5 943.54C1468.99 942.77 1480.57 941.19 1484.47 940.8C1488.36 940.41 1493.95 940.51 1496.95 940.3C1499.94 940.09 1501.34 939.2 1509.43 939.05C1517.51 938.9 1551.67 939.05 1564.33 939.05C1577 939.05 1607.46 939.09 1615 939.05C1622.54 939.01 1621.2 938.73 1627.19 938.69C1633.17 938.65 1659.58 938.56 1664.9 938.69C1670.22 938.82 1654.78 939.67 1671.56 939.8C1688.33 939.93 1775.38 939.8 1804.67 939.8C1833.95 939.8 1892.96 939.8 1915.59 939.8C1938.22 939.8 1983.92 939.8 1993.24 939.8" stroke="#f00"/>
<path d="M1178.7 831C1178.89 839.28 1179.7 883.08 1180.3 900C1180.9 916.92 1182.86 954.6 1183.7 972C1184.54 989.4 1186.47 1029.64 1187.3 1045C1188.13 1060.36 1189.84 1089.2 1190.6 1100C1191.36 1110.8 1192.89 1127.2 1193.6 1135C1194.31 1142.8 1195.79 1158.4 1196.5 1165C1197.21 1171.6 1198.78 1184 1199.5 1190C1200.22 1196 1201.82 1209.96 1202.5 1215C1203.18 1220.04 1204.31 1227.23 1205.2 1232C1206.09 1236.77 1208.76 1249.6 1209.93 1254.73C1211.09 1259.85 1213.87 1270.65 1214.92 1274.69C1215.97 1278.74 1217.31 1285.57 1218.66 1288.42C1220.01 1291.26 1224.2 1296.16 1226.15 1298.4C1228.09 1300.65 1232.79 1305.64 1234.88 1307.14C1236.98 1308.64 1240.92 1310.94 1243.62 1310.88C1246.31 1310.82 1254.2 1307.99 1257.35 1306.64C1260.49 1305.29 1266.83 1301.33 1269.83 1299.65C1272.82 1297.97 1279.61 1294.46 1282.3 1292.66C1285 1290.87 1290.04 1286.29 1292.29 1284.68C1294.53 1283.06 1298.33 1280.53 1301.02 1279.18C1303.72 1277.84 1311.31 1274.73 1314.75 1273.44C1318.19 1272.16 1326.13 1269.65 1329.73 1268.45C1333.32 1267.25 1341.11 1264.42 1344.7 1263.46C1348.29 1262.5 1356.08 1260.92 1359.68 1260.47C1363.27 1260.02 1371.96 1259.96 1374.65 1259.72C1377.35 1259.48 1378.84 1258.62 1382.14 1258.47C1385.43 1258.32 1398.21 1258.26 1402.1 1258.47C1406 1258.68 1405.6 1260.01 1414.58 1260.22C1423.57 1260.43 1468.29 1260.04 1476.98 1260.22C1485.67 1260.4 1476.48 1261.53 1486.96 1261.71C1497.45 1261.89 1548.97 1261.71 1564.33 1261.71C1579.7 1261.71 1608.63 1261.77 1615 1261.71C1621.37 1261.65 1616.06 1261.45 1617.4 1261.21C1618.73 1260.98 1624.03 1259.72 1626.13 1259.72C1628.23 1259.72 1625.43 1261.03 1634.87 1261.21C1644.3 1261.39 1688.88 1261.21 1704.75 1261.21C1720.62 1261.21 1758.61 1261.39 1767.15 1261.21C1775.68 1261.03 1773.79 1259.72 1775.88 1259.72C1777.98 1259.72 1772.19 1261.03 1784.62 1261.21C1797.05 1261.39 1854.3 1261.21 1879.46 1261.21C1904.62 1261.21 1980.49 1261.21 1994.27 1261.21" stroke="#000"/>
</g></g>
<text transform="translate(1179.2 1407.2) scale(1.17 1)" font-family='"Liberation Sans", sans-serif' font-size="20.2" text-anchor="middle">0</text>
<text transform="translate(1313.7 1407.2) scale(1.17 1)" font-family='"Liberation Sans", sans-serif' font-size="20.2" text-anchor="middle">5</text>
<text transform="translate(1448.8 1407.2) scale(1.17 1)" font-family='"Liberation Sans", sans-serif' font-size="20.2" text-anchor="middle">10</text>
<text transform="translate(1585.9 1407.2) scale(1.17 1)" font-family='"Liberation Sans", sans-serif' font-size="20.2" text-anchor="middle">15</text>
<text transform="translate(1720.7 1407.2) scale(1.17 1)" font-family='"Liberation Sans", sans-serif' font-size="20.2" text-anchor="middle">20</text>
<text transform="translate(1855.5 1407.2) scale(1.17 1)" font-family='"Liberation Sans", sans-serif' font-size="20.2" text-anchor="middle">25</text>
<text transform="translate(1992.3 1407.2) scale(1.17 1)" font-family='"Liberation Sans", sans-serif' font-size="20.2" text-anchor="middle">30</text>
<text transform="translate(1171.9 1388.97) scale(1.17 1)" font-family='"Liberation Sans", sans-serif' font-size="20.2" text-anchor="end">80</text>
<text transform="translate(1171.9 1297.17) scale(1.17 1)" font-family='"Liberation Sans", sans-serif' font-size="20.2" text-anchor="end">100</text>
<text transform="translate(1171.9 1205.27) scale(1.17 1)" font-family='"Liberation Sans", sans-serif' font-size="20.2" text-anchor="end">120</text>
<text transform="translate(1171.9 1113.37) scale(1.17 1)" font-family='"Liberation Sans", sans-serif' font-size="20.2" text-anchor="end">140</text>
<text transform="translate(1171.9 1021.37) scale(1.17 1)" font-family='"Liberation Sans", sans-serif' font-size="20.2" text-anchor="end">160</text>
<text transform="translate(1171.9 929.57) scale(1.17 1)" font-family='"Liberation Sans", sans-serif' font-size="20.2" text-anchor="end">180</text>
<text transform="translate(1171.9 838.17) scale(1.17 1)" font-family='"Liberation Sans", sans-serif' font-size="20.2" text-anchor="end">200</text>
<text transform="translate(1582.9 1434.1) scale(1.17 1)" font-family='"Liberation Sans", sans-serif' font-size="20.6" text-anchor="middle">Time in days</text>
<text transform="translate(1108.7 1112.6) rotate(-90) scale(1.05 1)" font-family='"Liberation Sans", sans-serif' font-size="22.9" text-anchor="middle">Inflammatory infected individuals (A)</text>
<rect x="1310" y="842.2" width="672.8" height="88.9" fill="#fff" stroke="#000" stroke-width="2.1"/>
<path d="M1324.4 865H1399.8" stroke="#f00" stroke-width="9.3"/>
<path d="M1324.4 905H1399.8" stroke="#000" stroke-width="9.3"/>
<text transform="translate(1407.6 867.9) scale(1.17 1)" font-family='"Liberation Sans", sans-serif' font-size="21" xml:space="preserve" textLength="291.27" lengthAdjust="spacingAndGlyphs"><tspan dy="0" font-size="21">Without controls,i.e, r</tspan><tspan dy="8.82" font-size="16.8">1</tspan><tspan dy="-8.82" font-size="21">=r</tspan><tspan dy="8.82" font-size="16.8">2</tspan><tspan dy="-8.82" font-size="21">=r</tspan><tspan dy="8.82" font-size="16.8">3</tspan><tspan dy="-8.82" font-size="21">=0</tspan></text>
<text transform="translate(1407.6 912.4) scale(1.17 1)" font-family='"Liberation Sans", sans-serif' font-size="21" xml:space="preserve" textLength="329.26" lengthAdjust="spacingAndGlyphs"><tspan dy="0" font-size="21">With preventionn contol mechanism</tspan></text>
<text transform="translate(1802.4 912.4) scale(1.17 1)" font-family='"Liberation Sans", sans-serif' font-size="21" xml:space="preserve" textLength="144.31" lengthAdjust="spacingAndGlyphs"><tspan dy="0" font-size="21">r</tspan><tspan dy="8.82" font-size="16.8">1</tspan><tspan dy="-8.82" font-size="21">≠ 0, r</tspan><tspan dy="8.82" font-size="16.8">2</tspan><tspan dy="-8.82" font-size="21">=0,r</tspan><tspan dy="8.82" font-size="16.8">3</tspan><tspan dy="-8.82" font-size="21">=0</tspan></text>
<text x="1251.8" y="1493.8" font-family='"Liberation Serif", serif' font-size="50" textLength="541.1" lengthAdjust="spacing" class="cap">D: Impact of prevention on</text>
<text transform="translate(1822.15 1493.8) scale(0.86 1)" font-family='"Liberation Serif", serif' font-style="italic" font-size="50" text-anchor="middle" class="cap">A</text>
<text x="1841.5" y="1493.8" font-family='"Liberation Serif", serif' font-size="50" class="cap">.</text>
</g>
<g id="chartE">
<path d="M624.2 2156.7V1554.1M760 2156.7V1554.1M898 2156.7V1554.1M1033.7 2156.7V1554.1M1169.7 2156.7V1554.1" stroke="#000" stroke-width="1.9" stroke-dasharray="8.5 8.16" fill="none"/>
<path d="M488.5 2089.74H1307.7M488.5 2022.79H1307.7M488.5 1955.83H1307.7M488.5 1888.88H1307.7M488.5 1821.92H1307.7M488.5 1754.97H1307.7M488.5 1688.01H1307.7M488.5 1621.06H1307.7" stroke="#000" stroke-width="1.9" stroke-dasharray="8.5 8.16" fill="none"/>
<path d="M624.2 2156.7v-7.0M624.2 1554.1v7.0M760 2156.7v-7.0M760 1554.1v7.0M898 2156.7v-7.0M898 1554.1v7.0M1033.7 2156.7v-7.0M1033.7 1554.1v7.0M1169.7 2156.7v-7.0M1169.7 1554.1v7.0M488.5 2089.74h7.0M1307.7 2089.74h-7.0M488.5 2022.79h7.0M1307.7 2022.79h-7.0M488.5 1955.83h7.0M1307.7 1955.83h-7.0M488.5 1888.88h7.0M1307.7 1888.88h-7.0M488.5 1821.92h7.0M1307.7 1821.92h-7.0M488.5 1754.97h7.0M1307.7 1754.97h-7.0M488.5 1688.01h7.0M1307.7 1688.01h-7.0M488.5 1621.06h7.0M1307.7 1621.06h-7.0" stroke="#000" stroke-width="1.9" fill="none"/>
<rect x="488.5" y="1554.1" width="819.2" height="602.6" fill="none" stroke="#000" stroke-width="2.5"/>
<clipPath id="clipE"><rect x="487.3" y="1552.9" width="821" height="605"/></clipPath>
<g clip-path="url(#clipE)"><g fill="none" stroke-width="9.3" stroke-linejoin="round" stroke-linecap="butt">
<path d="M488.8 2121.4C489.48 2120.09 492.86 2113.01 494.5 2110.5C496.14 2107.99 500.58 2102.84 502.5 2100.5C504.42 2098.16 508.58 2093.34 510.5 2091C512.42 2088.66 516.64 2083.34 518.5 2081C520.36 2078.66 524.08 2073.72 526 2071.5C527.92 2069.28 531.93 2065.73 534.5 2062.5C537.07 2059.27 544.64 2049.15 547.38 2044.61C550.12 2040.07 554.97 2029.43 557.36 2024.64C559.76 2019.85 564.95 2009.77 567.35 2004.68C569.74 1999.58 575.08 1987.3 577.33 1982.21C579.58 1977.12 584.27 1966.14 586.06 1962.25C587.86 1958.35 590.81 1953.66 592.3 1949.77C593.8 1945.87 596.75 1934.89 598.54 1929.8C600.34 1924.71 605.18 1912.73 607.28 1907.34C609.38 1901.95 614.07 1890.27 616.01 1884.88C617.96 1879.48 621.56 1868.1 623.5 1862.41C625.45 1856.72 630.14 1843.14 632.24 1837.45C634.33 1831.76 639.12 1819.84 640.97 1814.99C642.83 1810.15 646.09 1801.02 647.71 1797.07C649.33 1793.12 652.83 1785.99 654.45 1782.1C656.07 1778.2 659.48 1768.52 661.19 1764.63C662.9 1760.73 666.58 1754.44 668.68 1749.65C670.77 1744.86 675.91 1731.28 678.66 1724.69C681.42 1718.1 688.22 1701.93 691.64 1694.74C695.05 1687.55 703.61 1670.48 707.11 1664.79C710.62 1659.1 718.2 1650.62 720.84 1647.32C723.48 1644.03 726.95 1639.88 729.08 1637.34C731.2 1634.79 736.31 1628.65 738.56 1626.11C740.81 1623.56 745.28 1618.37 747.8 1616.12C750.31 1613.88 756.02 1609.48 759.53 1607.39C763.03 1605.29 772.8 1600.39 777 1598.65C781.19 1596.92 790.57 1594.02 794.47 1592.91C798.36 1591.8 805.85 1590.08 809.44 1589.42C813.04 1588.76 819.93 1587.72 824.42 1587.42C828.91 1587.12 843.29 1587.13 846.88 1586.92C850.47 1586.71 851.97 1585.82 854.37 1585.67C856.76 1585.52 864.15 1585.46 866.85 1585.67C869.54 1585.88 869.85 1587.21 876.83 1587.42C883.81 1587.63 913.24 1587.42 925 1587.42C936.76 1587.42 956.87 1587.42 974.83 1587.42C992.79 1587.42 1049.81 1587.42 1074.67 1587.42C1099.53 1587.42 1168.21 1587.54 1181.99 1587.42C1195.77 1587.3 1187.38 1586.36 1189.48 1586.42C1191.57 1586.48 1196.76 1587.89 1199.46 1587.92C1202.15 1587.95 1208.94 1586.82 1211.94 1586.67C1214.93 1586.52 1221.72 1586.52 1224.42 1586.67C1227.11 1586.82 1231.71 1587.92 1234.4 1587.92C1237.1 1587.92 1244.18 1586.82 1246.88 1586.67C1249.58 1586.52 1254.47 1586.52 1256.86 1586.67C1259.26 1586.82 1264.15 1587.92 1266.85 1587.92C1269.54 1587.92 1276.33 1586.7 1279.33 1586.67C1282.32 1586.64 1288.06 1587.58 1291.81 1587.67C1295.55 1587.76 1308.28 1587.45 1310.52 1587.42" stroke="#f00"/>
<path d="M488.99 2121.59C491.88 2121.15 508.22 2118.52 513.11 2117.93C518 2117.33 525.76 2117.19 529.75 2116.59C533.74 2116 542.4 2113.97 546.39 2112.93C550.38 2111.9 559.03 2109.24 563.03 2107.94C567.02 2106.64 575.67 2103.92 579.67 2102.12C583.66 2100.32 592.31 2095.26 596.31 2092.97C600.3 2090.67 608.03 2086.33 612.95 2082.98C617.86 2079.64 632.52 2068.54 637.23 2065.07C641.94 2061.61 649.21 2056.55 652.2 2054.09C655.2 2051.64 659.79 2046.95 662.19 2044.61C664.58 2042.27 669.78 2036.72 672.17 2034.63C674.57 2032.53 680.06 2029.08 682.15 2027.14C684.25 2025.19 687.55 2020.5 689.64 2018.4C691.74 2016.31 696.93 2012.06 699.63 2009.67C702.32 2007.27 709.11 2000.89 712.1 1998.44C715.1 1995.98 721.59 1991.69 724.58 1989.2C727.58 1986.72 734.07 1980.21 737.06 1977.72C740.06 1975.23 746.79 1970.4 749.54 1968.49C752.3 1966.57 757.63 1963.63 760.02 1961.75C762.42 1959.86 766.27 1955.25 769.51 1952.76C772.74 1950.28 783.09 1943.34 786.98 1941.03C790.87 1938.73 798.96 1935.25 801.96 1933.54C804.95 1931.84 808.34 1928.69 811.94 1926.81C815.53 1924.92 827.41 1919.71 831.91 1917.82C836.4 1915.93 844.88 1912.49 849.38 1911.08C853.87 1909.67 864.55 1907.29 869.34 1906.09C874.13 1904.89 883.92 1902.3 889.31 1901.1C894.7 1899.9 909.4 1896.86 914.27 1896.11C919.14 1895.36 926.23 1895.31 929.91 1894.86C933.58 1894.41 940.99 1892.66 944.88 1892.36C948.78 1892.06 959.06 1892.51 962.35 1892.36C965.65 1892.21 958.86 1891.26 972.34 1891.11C985.82 1890.97 1047.41 1891.11 1074.67 1891.11C1101.92 1891.11 1171.16 1891.11 1199.46 1891.11C1227.76 1891.11 1297.2 1891.11 1310.52 1891.11" stroke="#000"/>
</g></g>
<text transform="translate(489 2184.5) scale(1.09 1)" font-family='"Liberation Sans", sans-serif' font-size="22.1" text-anchor="middle">0</text>
<text transform="translate(624.7 2184.5) scale(1.09 1)" font-family='"Liberation Sans", sans-serif' font-size="22.1" text-anchor="middle">5</text>
<text transform="translate(760.5 2184.5) scale(1.09 1)" font-family='"Liberation Sans", sans-serif' font-size="22.1" text-anchor="middle">10</text>
<text transform="translate(898.5 2184.5) scale(1.09 1)" font-family='"Liberation Sans", sans-serif' font-size="22.1" text-anchor="middle">15</text>
<text transform="translate(1034.2 2184.5) scale(1.09 1)" font-family='"Liberation Sans", sans-serif' font-size="22.1" text-anchor="middle">20</text>
<text transform="translate(1170.2 2184.5) scale(1.09 1)" font-family='"Liberation Sans", sans-serif' font-size="22.1" text-anchor="middle">25</text>
<text transform="translate(1308.5 2184.5) scale(1.09 1)" font-family='"Liberation Sans", sans-serif' font-size="22.1" text-anchor="middle">30</text>
<text transform="translate(481.9 2164.55) scale(1.09 1)" font-family='"Liberation Sans", sans-serif' font-size="22.1" text-anchor="end">200</text>
<text transform="translate(481.9 2097.59) scale(1.09 1)" font-family='"Liberation Sans", sans-serif' font-size="22.1" text-anchor="end">300</text>
<text transform="translate(481.9 2030.63) scale(1.09 1)" font-family='"Liberation Sans", sans-serif' font-size="22.1" text-anchor="end">400</text>
<text transform="translate(481.9 1963.68) scale(1.09 1)" font-family='"Liberation Sans", sans-serif' font-size="22.1" text-anchor="end">500</text>
<text transform="translate(481.9 1896.72) scale(1.09 1)" font-family='"Liberation Sans", sans-serif' font-size="22.1" text-anchor="end">600</text>
<text transform="translate(481.9 1829.77) scale(1.09 1)" font-family='"Liberation Sans", sans-serif' font-size="22.1" text-anchor="end">700</text>
<text transform="translate(481.9 1762.81) scale(1.09 1)" font-family='"Liberation Sans", sans-serif' font-size="22.1" text-anchor="end">800</text>
<text transform="translate(481.9 1695.86) scale(1.09 1)" font-family='"Liberation Sans", sans-serif' font-size="22.1" text-anchor="end">900</text>
<text transform="translate(481.9 1628.9) scale(1.09 1)" font-family='"Liberation Sans", sans-serif' font-size="22.1" text-anchor="end">1000</text>
<text transform="translate(481.9 1561.95) scale(1.09 1)" font-family='"Liberation Sans", sans-serif' font-size="22.1" text-anchor="end">1100</text>
<text transform="translate(895.9 2213.5) scale(1.09 1)" font-family='"Liberation Sans", sans-serif' font-size="22.54" text-anchor="middle">Time in days</text>
<text transform="translate(406.6 1842.2) rotate(-90) scale(1.02 1)" font-family='"Liberation Sans", sans-serif' font-size="24.6" text-anchor="middle">Recovered individuals (R)</text>
<rect x="641.1" y="1651.1" width="662.7" height="96.5" fill="#fff" stroke="#000" stroke-width="2.1"/>
<path d="M655.9 1675.9H732" stroke="#f00" stroke-width="9.3"/>
<path d="M655.9 1719.9H732" stroke="#000" stroke-width="9.3"/>
<text transform="translate(740.5 1678.8) scale(1.09 1)" font-family='"Liberation Sans", sans-serif' font-size="23.4" xml:space="preserve" textLength="312.81" lengthAdjust="spacingAndGlyphs"><tspan dy="0" font-size="23.4">Without controls,i.e, r</tspan><tspan dy="9.83" font-size="18.72">1</tspan><tspan dy="-9.83" font-size="23.4">=r</tspan><tspan dy="9.83" font-size="18.72">2</tspan><tspan dy="-9.83" font-size="23.4">=r</tspan><tspan dy="9.83" font-size="18.72">3</tspan><tspan dy="-9.83" font-size="23.4">=0</tspan></text>
<text transform="translate(740.5 1726.5) scale(1.09 1)" font-family='"Liberation Sans", sans-serif' font-size="23.4" xml:space="preserve" textLength="339.8" lengthAdjust="spacingAndGlyphs"><tspan dy="0" font-size="23.4">With protection contol mechanism</tspan></text>
<text transform="translate(1121.9 1726.5) scale(1.09 1)" font-family='"Liberation Sans", sans-serif' font-size="23.4" xml:space="preserve" textLength="155.72" lengthAdjust="spacingAndGlyphs"><tspan dy="0" font-size="23.4">r</tspan><tspan dy="9.83" font-size="18.72">1</tspan><tspan dy="-9.83" font-size="23.4">≠ 0, r</tspan><tspan dy="9.83" font-size="18.72">2</tspan><tspan dy="-9.83" font-size="23.4">=0,r</tspan><tspan dy="9.83" font-size="18.72">3</tspan><tspan dy="-9.83" font-size="23.4">=0</tspan></text>
<text x="529.3" y="2261.8" font-family='"Liberation Serif", serif' font-size="50" textLength="535.5" lengthAdjust="spacing" class="cap">E: Impact of prevention on</text>
<text transform="translate(1093.95 2261.8) scale(0.89 1)" font-family='"Liberation Serif", serif' font-style="italic" font-size="50" text-anchor="middle" class="cap">R</text>
<text x="1114.2" y="2261.8" font-family='"Liberation Serif", serif' font-size="50" class="cap">.</text>
</g>
</svg>
</body>
</html>
